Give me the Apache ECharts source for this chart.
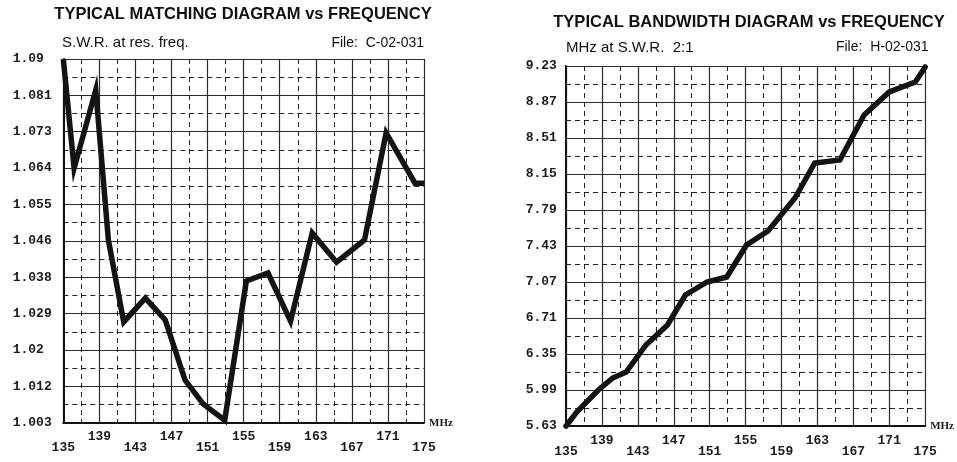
<!DOCTYPE html>
<html><head><meta charset="utf-8">
<script src="https://cdn.jsdelivr.net/npm/echarts@6/dist/echarts.min.js"></script>
<style>html,body{margin:0;padding:0;background:#fff}#c{width:957px;height:462px}</style>
</head><body><div id="c"></div>
<script>
// ---- data ----
const swrFreq = [135, 136.2, 138.6, 140.0, 141.7, 144.1, 146.3, 148.5, 150.5, 152.9, 155.3, 157.7, 160.2, 162.6, 165.3, 168.4, 170.8, 174.0, 175];
const swrValues = [1.090, 1.0639, 1.0826, 1.0467, 1.0271, 1.0328, 1.0276, 1.0132, 1.0075, 1.0036, 1.0369, 1.0388, 1.0273, 1.0484, 1.0414, 1.0467, 1.0723, 1.0603, 1.0603];
const bwFreq = [135, 136.2, 138.6, 140.2, 141.7, 143.9, 146.3, 148.3, 150.7, 152.9, 155.1, 157.5, 160.5, 162.7, 165.5, 168.2, 171.0, 173.9, 175];
const bwValues = [5.63, 5.77, 5.99, 6.11, 6.17, 6.44, 6.64, 6.94, 7.07, 7.12, 7.44, 7.58, 7.91, 8.26, 8.29, 8.74, 8.97, 9.07, 9.22];
const freqTicks = [135, 139, 143, 147, 151, 155, 159, 163, 167, 171, 175];
const swrTickLabels = ['1.003', '1.012', '1.02', '1.029', '1.038', '1.046', '1.055', '1.064', '1.073', '1.081', '1.09'];
const bwTickLabels = ['5.63', '5.99', '6.35', '6.71', '7.07', '7.43', '7.79', '8.15', '8.51', '8.87', '9.23'];
const swrRange = [1.003, 1.09];
const bwRange = [5.63, 9.23];
const freqRange = [135, 175];

const chart = echarts.init(document.getElementById('c'), null, {renderer: 'canvas'});

const labelFont = {fontFamily: 'Liberation Mono', fontWeight: 'bold', fontSize: 13, color: '#1a1a1a'};

function tickValues(range, labels) {
  const step = (range[1] - range[0]) / (labels.length - 1);
  return labels.map((_, i) => range[0] + i * step);
}

function mainX(gi) {
  return {
    type: 'value', gridIndex: gi, min: freqRange[0], max: freqRange[1], z: 3,
    axisLine: {show: true, lineStyle: {color: '#111', width: 2}},
    axisTick: {show: false}, splitLine: {show: false},
    axisLabel: Object.assign({
      customValues: freqTicks, margin: 9, lineHeight: 11, verticalAlign: 'top',
      formatter: function (v) {
        const k = Math.round((v - freqRange[0]) / 4);
        return k % 2 === 0 ? '\n' + v : String(v);
      }
    }, labelFont),
    name: 'MHz', nameLocation: 'end', nameGap: 5,
    nameTextStyle: {fontFamily: 'Liberation Serif', fontWeight: 'bold', fontSize: 11, color: '#1a1a1a', align: 'left', verticalAlign: 'middle', padding: [0, 0, 3, 0]}
  };
}
function gridAxis(gi, pos) {
  return {
    type: 'value', gridIndex: gi, min: 0, max: 10, interval: 1, position: pos, z: 1,
    axisLine: {show: false}, axisTick: {show: false}, axisLabel: {show: false},
    splitLine: {show: true, lineStyle: {color: '#2a2a2a', width: 1.2}},
    minorTick: {show: false, splitNumber: 2},
    minorSplitLine: {show: true, lineStyle: {color: '#222', width: 1, type: [5, 4]}}
  };
}
function mainY(gi, range, labels, margin) {
  const vals = tickValues(range, labels);
  const step = (range[1] - range[0]) / (labels.length - 1);
  return {
    type: 'value', gridIndex: gi, min: range[0], max: range[1], z: 3,
    axisLine: {show: true, lineStyle: {color: '#111', width: 2}},
    axisTick: {show: false}, splitLine: {show: false},
    axisLabel: Object.assign({
      customValues: vals, align: 'left', margin: margin, verticalAlign: 'middle', padding: [0, 0, 3, 0],
      formatter: function (v) { return labels[Math.round((v - range[0]) / step)]; }
    }, labelFont)
  };
}

const titleFont = 'bold 16.5px "Liberation Sans"';
const subFont = '15px "Liberation Sans"';
const fileFont = '14px "Liberation Sans"';
function txt(t, x, y, font, align) {
  return {type: 'text', x: x, y: y, silent: true, style: {text: t, font: font, fill: '#111', textAlign: align, textVerticalAlign: 'middle'}};
}

chart.setOption({
  animation: false,
  backgroundColor: '#fff',
  grid: [
    {left: 63.3, top: 59, width: 360.7, height: 363.7},
    {left: 566, top: 66, width: 362.3, height: 360}
  ],
  xAxis: [mainX(0), gridAxis(0, 'top'), mainX(1), gridAxis(1, 'top')],
  yAxis: [mainY(0, swrRange, swrTickLabels, 50.6), gridAxis(0, 'right'), mainY(1, bwRange, bwTickLabels, 40.3), gridAxis(1, 'right')],
  graphic: [
    txt('TYPICAL MATCHING DIAGRAM vs FREQUENCY', 243, 14, titleFont, 'center'),
    txt('S.W.R. at res. freq.', 62, 43, subFont, 'left'),
    txt('File:  C-02-031', 424, 43, fileFont, 'right'),
    txt('TYPICAL BANDWIDTH DIAGRAM vs FREQUENCY', 749, 22.5, titleFont, 'center'),
    txt('MHz at S.W.R.  2:1', 566, 47.5, subFont, 'left'),
    txt('File:  H-02-031', 928.5, 47.5, fileFont, 'right')
  ],
  series: [
    {
      type: 'line', xAxisIndex: 0, yAxisIndex: 0, symbol: 'none', clip: false, z: 5,
      lineStyle: {color: '#141414', width: 5.5, join: 'miter', cap: 'butt'},
      data: swrFreq.map((f, i) => [f, swrValues[i]])
    },
    {
      type: 'line', xAxisIndex: 2, yAxisIndex: 2, symbol: 'none', clip: false, z: 5,
      lineStyle: {color: '#141414', width: 5.5, join: 'miter', cap: 'round'},
      data: bwFreq.map((f, i) => [f, bwValues[i]])
    }
  ]
});
</script>
</body></html>
